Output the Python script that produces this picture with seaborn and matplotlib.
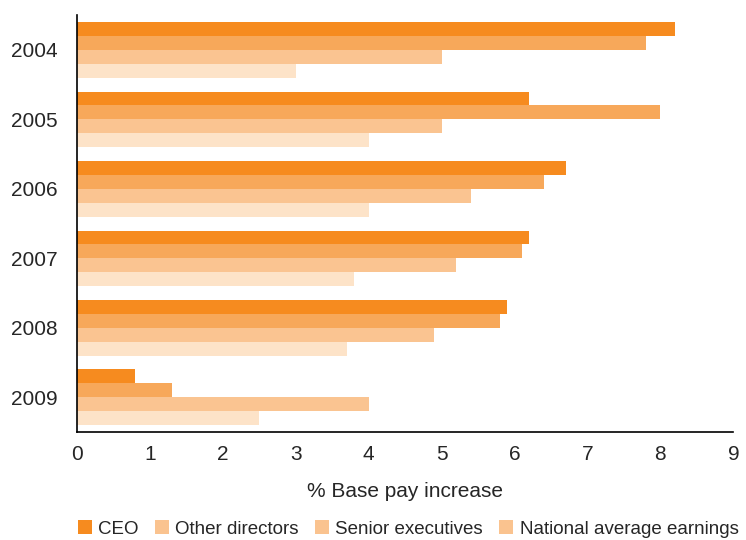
import matplotlib
matplotlib.use("Agg")
import matplotlib.pyplot as plt
import seaborn as sns
import pandas as pd
from matplotlib.patches import Patch

years = ["2004", "2005", "2006", "2007", "2008", "2009"]
series = ["CEO", "Other directors", "Senior executives", "National average earnings"]
ceo = [8.2, 6.2, 6.7, 6.2, 5.9, 0.8]
other_directors = [7.8, 8.0, 6.4, 6.1, 5.8, 1.3]
senior_executives = [5.0, 5.0, 5.4, 5.2, 4.9, 4.0]
national_average = [3.0, 4.0, 4.0, 3.8, 3.7, 2.5]
xticks = [0, 1, 2, 3, 4, 5, 6, 7, 8, 9]

values = [ceo, other_directors, senior_executives, national_average]
rows = []
for s, vals in zip(series, values):
    for y, v in zip(years, vals):
        rows.append({"Year": y, "Series": s, "Value": v})
df = pd.DataFrame(rows)

sns.set_theme(style="white")
plt.rcParams["font.family"] = ["Liberation Sans", "DejaVu Sans"]

colors = ["#F68B1F", "#F7A85A", "#FAC491", "#FDE3C8"]
fig = plt.figure(figsize=(7.46, 5.40), dpi=100)
ax = fig.add_axes([0.103, 0.2, 0.88, 0.772])
sns.barplot(data=df, y="Year", x="Value", hue="Series", order=years, hue_order=series,
            palette=colors, orient="h", width=0.8, saturation=1, linewidth=0,
            ax=ax, legend=False)
ax.set_xlim(0, 9)
ax.set_xticks(xticks)
ax.tick_params(axis="both", labelsize=15, length=0)
ax.tick_params(axis="y", pad=14)
ax.tick_params(axis="x", pad=9)
ax.set_ylabel("")
ax.set_xlabel("% Base pay increase", fontsize=15, labelpad=13)
for sp in ["top", "right"]:
    ax.spines[sp].set_visible(False)
for sp in ["left", "bottom"]:
    ax.spines[sp].set_color("black")
    ax.spines[sp].set_linewidth(1.2)

leg_colors = ["#F68B1F", "#FAC38F", "#FAC38F", "#FAC38F"]
handles = [Patch(facecolor=c, edgecolor="none", label=s) for c, s in zip(leg_colors, series)]
fig.legend(handles=handles, loc="lower left", bbox_to_anchor=(0.099, -0.003), ncol=4,
           frameon=False, fontsize=13.5, handlelength=0.75, handleheight=0.75,
           handletextpad=0.35, columnspacing=0.85, borderpad=0.2, borderaxespad=0.0)
fig.savefig("out.png", dpi=100)
